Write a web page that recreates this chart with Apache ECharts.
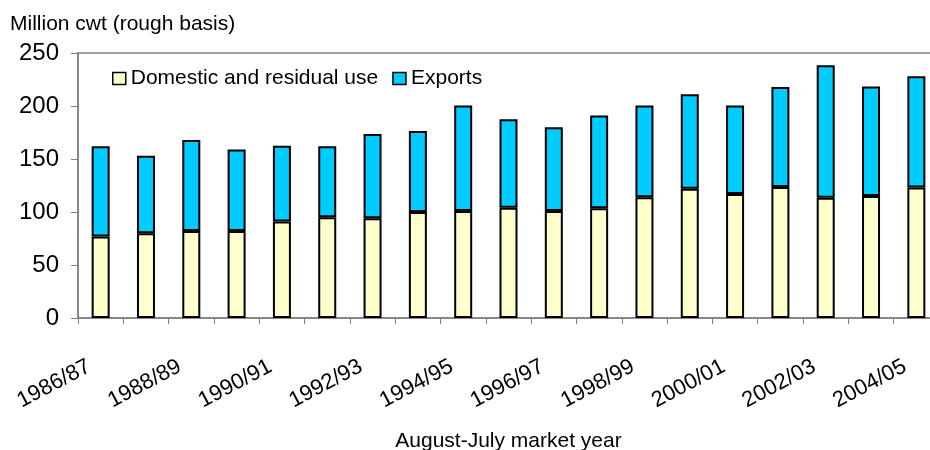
<!DOCTYPE html>
<html>
<head>
<meta charset="utf-8">
<style>html,body{margin:0;padding:0;background:#fff;}#c{width:930px;height:450px;}</style>
<script src="https://cdn.jsdelivr.net/npm/echarts@6/dist/echarts.min.js"></script>
</head>
<body>
<div id="c"></div>
<script>
const categories = ["1986/87","1987/88","1988/89","1989/90","1990/91","1991/92","1992/93","1993/94","1994/95","1995/96","1996/97","1997/98","1998/99","1999/00","2000/01","2001/02","2002/03","2003/04","2004/05"];
const domestic = [77, 80, 82, 82, 91, 95, 94, 100, 101, 104, 101, 103.5, 114, 122, 117, 123.5, 113.5, 115, 123];
const exportsVals = [85, 73, 86, 77, 71.5, 67, 79.5, 76.5, 99.5, 83.5, 79, 87.5, 86.5, 89, 83.5, 94.5, 125, 103.5, 105];
const yTicks = [0, 50, 100, 150, 200, 250];

const FONT = '"Liberation Sans", Arial, sans-serif';
const chart = echarts.init(document.getElementById('c'), null, {renderer: 'canvas'});
chart.setOption({
  animation: false,
  backgroundColor: '#fff',
  textStyle: {fontFamily: FONT, color: '#000'},
  title: {
    text: 'Million cwt (rough basis)',
    left: 5, top: 9,
    textStyle: {fontFamily: FONT, fontSize: 21, fontWeight: 'normal', color: '#000'}
  },
  legend: {
    left: 112, top: 68, padding: 0,
    itemWidth: 13, itemHeight: 12, itemGap: 14,
    icon: 'rect',
    textStyle: {fontFamily: FONT, fontSize: 21, color: '#000', padding: [0, 0, 0, 0]},
    itemStyle: {borderColor: '#000', borderWidth: 1.5},
    data: ['Domestic and residual use', 'Exports']
  },
  grid: {
    left: 78, top: 53, width: 861, height: 265,
    outerBoundsMode: 'none',
    containLabel: false,
    show: true, borderColor: '#a0a0a0', borderWidth: 2, backgroundColor: 'transparent'
  },
  xAxis: {
    type: 'category',
    data: categories,
    boundaryGap: true,
    name: 'August-July market year',
    nameLocation: 'middle',
    nameGap: 113,
    nameTextStyle: {fontFamily: FONT, fontSize: 21, color: '#000'},
    axisLine: {lineStyle: {color: '#808080', width: 1.5}},
    axisTick: {show: true, interval: 0, length: 6, lineStyle: {color: '#808080', width: 1}},
    axisLabel: {interval: 1, rotate: 28, margin: 41, padding: [0, 13, 0, 0], fontFamily: FONT, fontSize: 22, color: '#000'},
    splitLine: {show: false}
  },
  yAxis: {
    type: 'value',
    min: yTicks[0], max: yTicks[yTicks.length - 1], interval: 50,
    axisLine: {show: true, lineStyle: {color: '#808080', width: 1.5}},
    axisTick: {show: true, length: 7, lineStyle: {color: '#808080', width: 1}},
    axisLabel: {margin: 19, fontFamily: FONT, fontSize: 24, color: '#000'},
    splitLine: {show: false}
  },
  series: [
    {
      name: 'Domestic and residual use', type: 'bar', stack: 'total',
      data: domestic, barWidth: 18,
      itemStyle: {color: '#FFFFCC', borderColor: '#000', borderWidth: 2}
    },
    {
      name: 'Exports', type: 'bar', stack: 'total',
      data: exportsVals, barWidth: 18,
      itemStyle: {color: '#00CCFF', borderColor: '#000', borderWidth: 2}
    }
  ]
});
</script>
</body>
</html>
